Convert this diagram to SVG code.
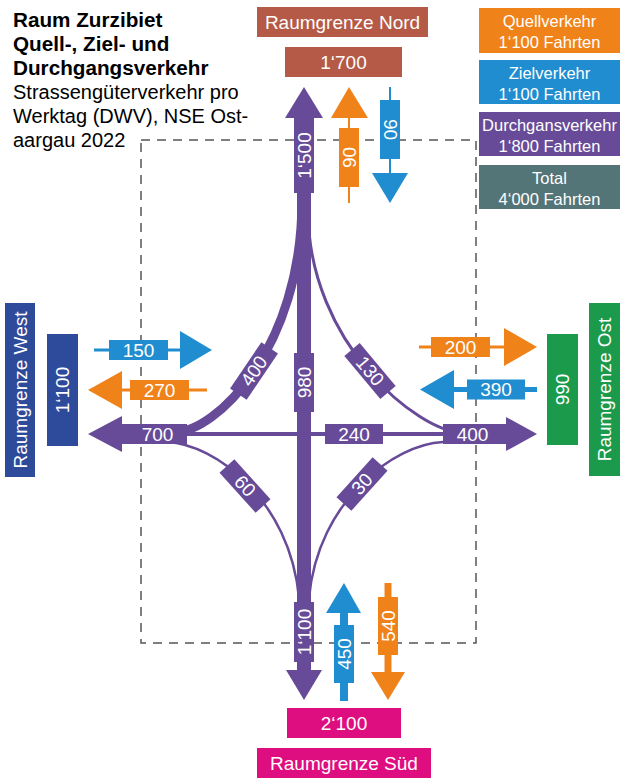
<svg xmlns="http://www.w3.org/2000/svg" width="625" height="779" viewBox="0 0 625 779">
<style>
.q{fill:#F0821A}.z{fill:#1F8DCF}.d{fill:#674B98}
.ql{stroke:#F0821A;fill:none}.zl{stroke:#1F8DCF;fill:none}.dl{stroke:#674B98;fill:none}
text{font-family:"Liberation Sans",Arial,sans-serif}
.w{fill:#fff;text-anchor:middle;dominant-baseline:central;font-size:19px}
.lg{fill:#fff;text-anchor:middle;font-size:16.5px}
.t{fill:#000;font-size:20px}
.tb{fill:#000;font-size:20.7px;font-weight:bold}
</style>
<rect width="625" height="779" fill="#fff"/>
<rect x="141" y="140" width="335" height="503" fill="none" stroke="#555" stroke-width="1.5" stroke-dasharray="9,7"/>

<g id="title">
<text class="tb" x="13" y="27">Raum Zurzibiet</text>
<text class="tb" x="13" y="51">Quell-, Ziel- und</text>
<text class="tb" x="13" y="75">Durchgangsverkehr</text>
<text class="t" x="13" y="99">Strassengüterverkehr pro</text>
<text class="t" x="13" y="123">Werktag (DWV), NSE Ost-</text>
<text class="t" x="13" y="147">aargau 2022</text>
</g>

<g id="legend-quell"><rect x="479" y="8" width="141" height="45" class="q"/><text class="lg" x="549.5" y="27">Quellverkehr</text><text class="lg" x="549.5" y="48">1‘100 Fahrten</text></g>
<g id="legend-ziel"><rect x="479" y="60" width="141" height="44" class="z"/><text class="lg" x="549.5" y="79">Zielverkehr</text><text class="lg" x="549.5" y="100">1‘100 Fahrten</text></g>
<g id="legend-durch"><rect x="479" y="112" width="141" height="44" class="d"/><text class="lg" x="549.5" y="131">Durchgansverkehr</text><text class="lg" x="549.5" y="152">1‘800 Fahrten</text></g>
<g id="legend-total"><rect x="479" y="165" width="141" height="44" fill="#547578"/><text class="lg" x="549.5" y="184">Total</text><text class="lg" x="549.5" y="205">4‘000 Fahrten</text></g>

<g id="nord"><rect x="257" y="7" width="171" height="30" fill="#B55A47"/><text class="w" x="342.5" y="22.5">Raumgrenze Nord</text></g>
<g id="nord-total"><rect x="285" y="47" width="117" height="30" fill="#B55A47"/><text class="w" x="343.5" y="62.5">1‘700</text></g>

<g id="west"><rect x="5" y="303" width="30" height="174" fill="#2E4B9B"/><text class="w" transform="translate(20.5,390) rotate(-90)">Raumgrenze West</text></g>
<g id="west-total"><rect x="47" y="334" width="31" height="112" fill="#2E4B9B"/><text class="w" transform="translate(62.5,390) rotate(-90)">1‘100</text></g>

<g id="ost-total"><rect x="547" y="334" width="31" height="111" fill="#1B9A4C"/><text class="w" transform="translate(562.5,389.5) rotate(-90)">990</text></g>
<g id="ost"><rect x="589" y="303" width="31" height="173" fill="#1B9A4C"/><text class="w" transform="translate(604.5,389.5) rotate(-90)">Raumgrenze Ost</text></g>

<g id="sued-total"><rect x="287" y="708" width="114" height="30" fill="#DE0E80"/><text class="w" x="344" y="723.5">2‘100</text></g>
<g id="sued"><rect x="257" y="748" width="174" height="30" fill="#DE0E80"/><text class="w" x="344" y="763.5">Raumgrenze Süd</text></g>

<g id="connectors">
<!-- Durchgangsverkehr curves -->
<path class="dl" stroke-width="9" d="M302 200 C302 350 215 432 175 432"/>
<path class="dl" stroke-width="3" d="M308 210 C308 345 420 432 460 432"/>
<path class="dl" stroke-width="2.5" d="M167 442 C215 444 290 500 299 598"/>
<path class="dl" stroke-width="2.5" d="M443 442 C395 444 318 500 309 598"/>
<!-- horizontal -->
<line class="dl" stroke-width="4" x1="187" y1="434" x2="443" y2="434"/>
<!-- trunk -->
<rect class="d" x="297" y="118" width="14" height="552"/>
<polygon class="d" points="285,118 304,87 323,118"/>
<polygon class="d" points="286,670 304,700 322,670"/>
<rect class="d" x="294" y="118" width="20" height="75"/><text class="w" transform="translate(304,155.5) rotate(-90)">1‘500</text>
<rect class="d" x="294" y="353" width="20" height="59"/><text class="w" transform="translate(304,382.5) rotate(-90)">980</text>
<rect class="d" x="294" y="602" width="20" height="60"/><text class="w" transform="translate(304,632) rotate(-90)">1‘100</text>
<!-- west / east purple -->
<polygon class="d" points="122,416 88,434 122,452"/>
<rect class="d" x="120" y="424" width="67" height="20"/><text class="w" x="157.5" y="434">700</text>
<rect class="d" x="325" y="424" width="58" height="20"/><text class="w" x="354" y="434">240</text>
<rect class="d" x="443" y="424" width="65" height="20"/><text class="w" x="472.5" y="434">400</text>
<polygon class="d" points="506,417 537,434 506,451"/>
<!-- curve labels -->
<g transform="translate(254,371) rotate(-56)"><rect class="d" x="-28" y="-10" width="56" height="20"/><text class="w" x="0" y="0">400</text></g>
<g transform="translate(370,371) rotate(50)"><rect class="d" x="-28" y="-10" width="56" height="20"/><text class="w" x="0" y="0">130</text></g>
<g transform="translate(245,486) rotate(48)"><rect class="d" x="-27" y="-10" width="54" height="20"/><text class="w" x="0" y="0">60</text></g>
<g transform="translate(362,484) rotate(-48)"><rect class="d" x="-27" y="-10" width="54" height="20"/><text class="w" x="0" y="0">30</text></g>

<!-- north small -->
<line class="ql" stroke-width="2" x1="349" y1="118" x2="349" y2="203"/>
<polygon class="q" points="331,118 349,87 368,118"/>
<rect class="q" x="339" y="128" width="20" height="59"/><text class="w" transform="translate(349,157.5) rotate(-90)">90</text>
<line class="zl" stroke-width="2" x1="390" y1="87" x2="390" y2="175"/>
<rect class="z" x="380" y="100" width="20" height="59"/><text class="w" transform="translate(390,129.5) rotate(90)">90</text>
<polygon class="z" points="372,173 390,203 408,173"/>

<!-- west small -->
<line class="zl" stroke-width="3" x1="94" y1="350" x2="182" y2="350"/>
<rect class="z" x="109" y="340" width="59" height="20"/><text class="w" x="138.5" y="350">150</text>
<polygon class="z" points="180,331 212,350 180,369"/>
<polygon class="q" points="122,371 88,390 122,409"/>
<line class="ql" stroke-width="3" x1="120" y1="390" x2="207" y2="390"/>
<rect class="q" x="130" y="380" width="59" height="20"/><text class="w" x="159.5" y="390">270</text>

<!-- east small -->
<line class="ql" stroke-width="3" x1="419" y1="347" x2="506" y2="347"/>
<rect class="q" x="431" y="337" width="59" height="20"/><text class="w" x="460.5" y="347">200</text>
<polygon class="q" points="504,328 537,347 504,366"/>
<polygon class="z" points="454,370 420,389.5 454,409"/>
<line class="zl" stroke-width="5" x1="452" y1="389.5" x2="537" y2="389.5"/>
<rect class="z" x="467" y="379.5" width="58" height="20"/><text class="w" x="496" y="389.5">390</text>

<!-- south small -->
<polygon class="z" points="326,613 344,583 361,613"/>
<line class="zl" stroke-width="8" x1="344" y1="611" x2="344" y2="701"/>
<rect class="z" x="334" y="625" width="20" height="58"/><text class="w" transform="translate(344,654) rotate(-90)">450</text>
<line class="ql" stroke-width="7" x1="388" y1="583" x2="388" y2="674"/>
<rect class="q" x="378" y="597" width="20" height="58"/><text class="w" transform="translate(388,626) rotate(-90)">540</text>
<polygon class="q" points="371,672 388,700 405,672"/>
</g>
</svg>
